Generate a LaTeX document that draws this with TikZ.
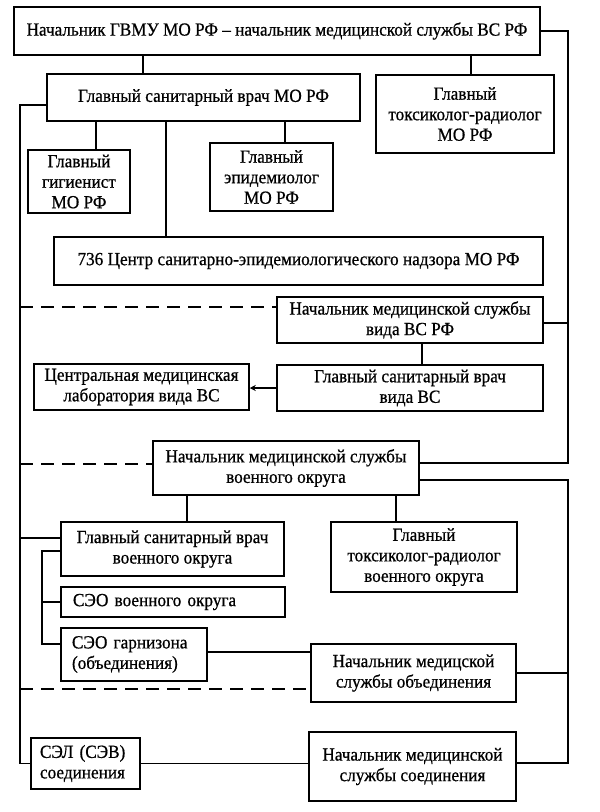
\documentclass[tikz,border=0pt]{standalone}
\usepackage{fontspec}
\setmainfont[FakeStretch=0.93,FakeBold=0.7]{Liberation Serif}
\usetikzlibrary{arrows.meta}
\begin{document}
\begin{tikzpicture}[x=1pt,y=-1pt,
  box/.style={draw,line width=1.5pt,align=center,inner sep=2pt,font=\fontsize{18.5}{20.5}\selectfont},
  ln/.style={line width=1.5pt},
  dsh/.style={line width=1.5pt,dash pattern=on 13pt off 8pt}]
\useasboundingbox (0,0) rectangle (600,812);
\coordinate (L) at (20,0);
\coordinate (R) at (568,0);
\coordinate (B) at (42,0);
% boxes
\node[box,minimum width=526pt,minimum height=48pt] (top) at (277,31) {Начальник ГВМУ МО РФ – начальник медицинской службы ВС РФ};
\node[box,minimum width=313pt,minimum height=47pt] (sanMO) at (203.5,97.5) {Главный санитарный врач МО РФ};
\node[box,minimum width=178pt,minimum height=78pt] (toxMO) at (465,114) {Главный\\токсиколог-радиолог\\МО РФ};
\node[box,minimum width=102pt,minimum height=63pt] (gig) at (79,181.5) {Главный\\гигиенист\\МО РФ};
\node[box,minimum width=123pt,minimum height=68pt] (epi) at (271.5,177) {Главный\\эпидемиолог\\МО РФ};
\node[box,minimum width=489pt,minimum height=48pt] (c736) at (298.5,261) {736 Центр санитарно-эпидемиологического надзора МО РФ};
\node[box,minimum width=266pt,minimum height=46pt] (vida) at (410,320) {Начальник медицинской службы\\вида ВС РФ};
\node[box,minimum width=266pt,minimum height=46pt] (sanvida) at (410,388) {Главный санитарный врач\\вида ВС};
\node[box,minimum width=215pt,minimum height=46pt] (lab) at (141.5,387) {Центральная медицинская\\лаборатория вида ВС};
\node[box,minimum width=266pt,minimum height=54pt] (vo) at (286,468) {Начальник медицинской службы\\военного округа};
\node[box,minimum width=223pt,minimum height=54pt] (sanvo) at (172.5,549) {Главный санитарный врач\\военного округа};
\node[box,minimum width=186pt,minimum height=70pt] (toxvo) at (424,557) {Главный\\токсиколог-радиолог\\военного округа};
\node[box,align=left,inner xsep=12pt,text width=200pt,minimum height=30pt] (seovo) at (173,602) {СЭО военного округа};
\node[box,align=left,inner xsep=11pt,text width=124pt,minimum height=53pt] (seog) at (134,654.5) {СЭО гарнизона\\(объединения)};
\node[box,minimum width=205pt,minimum height=58pt] (obyed) at (413.5,673) {Начальник медицской\\службы объединения};
\node[box,align=left,inner xsep=9pt,text width=91pt,minimum height=51pt] (sel) at (85.5,763.5) {СЭЛ (СЭВ)\\соединения};
\node[box,minimum width=207pt,minimum height=69pt] (soed) at (412.5,766.5) {Начальник медицинской\\службы соединения};
% connectors
\draw[ln] (top.south -| 143,0) -- (sanMO.north -| 143,0);
\draw[ln] (top.south -| 471,0) -- (toxMO.north -| 471,0);
\draw[ln] (sanMO.south -| 96,0) -- (gig.north -| 96,0);
\draw[ln] (sanMO.south -| 166,0) -- (c736.north -| 166,0);
\draw[ln] (sanMO.south -| 285,0) -- (epi.north -| 285,0);
\draw[ln] (top.east) -| ([yshift=5pt]vo.east -| R) -- ([yshift=5pt]vo.east);
\draw[ln] ([yshift=-3pt]vida.east) -- ([yshift=-3pt]vida.east -| R);
\draw[ln] ([yshift=-12pt]vo.east) -| ([yshift=3.5pt]soed.east -| R) -- ([yshift=3.5pt]soed.east);
\draw[ln] (obyed.east) -- (obyed.east -| R);
\draw[ln] ([yshift=-7.5pt]sanMO.west) -| (sel.west -| L) -- (sel.west);
\draw[ln] ([yshift=11pt]sanvo.west) -- ([yshift=11pt]sanvo.west -| L);
\draw[dsh] ([yshift=13pt]vida.west -| L) -- ([yshift=13pt]vida.west);
\draw[dsh] ([yshift=4pt]vo.west -| L) -- ([yshift=4pt]vo.west);
\draw[dsh] ([yshift=-16pt]obyed.west -| L) -- ([yshift=-16pt]obyed.west);
\draw[ln] (vida.south -| 422,0) -- (sanvida.north -| 422,0);
\draw[ln,-{Stealth[length=6pt,width=6pt]}] (sanvida.west) -- (sanvida.west -| lab.east);
\draw[ln] (vo.south -| 187,0) -- (sanvo.north -| 187,0);
\draw[ln] (vo.south -| 396,0) -- (toxvo.north -| 396,0);
\draw[ln] ([yshift=-2pt]sanvo.west) -| ([yshift=10.5pt]seog.west -| B) -- ([yshift=10.5pt]seog.west);
\draw[ln] (seovo.west -| B) -- (seovo.west);
\draw[ln] ([yshift=2.5pt]seog.east) -- ([yshift=2.5pt]seog.east -| obyed.west);
\draw[ln] (sel.east) -- (sel.east -| soed.west);
\end{tikzpicture}
\end{document}
